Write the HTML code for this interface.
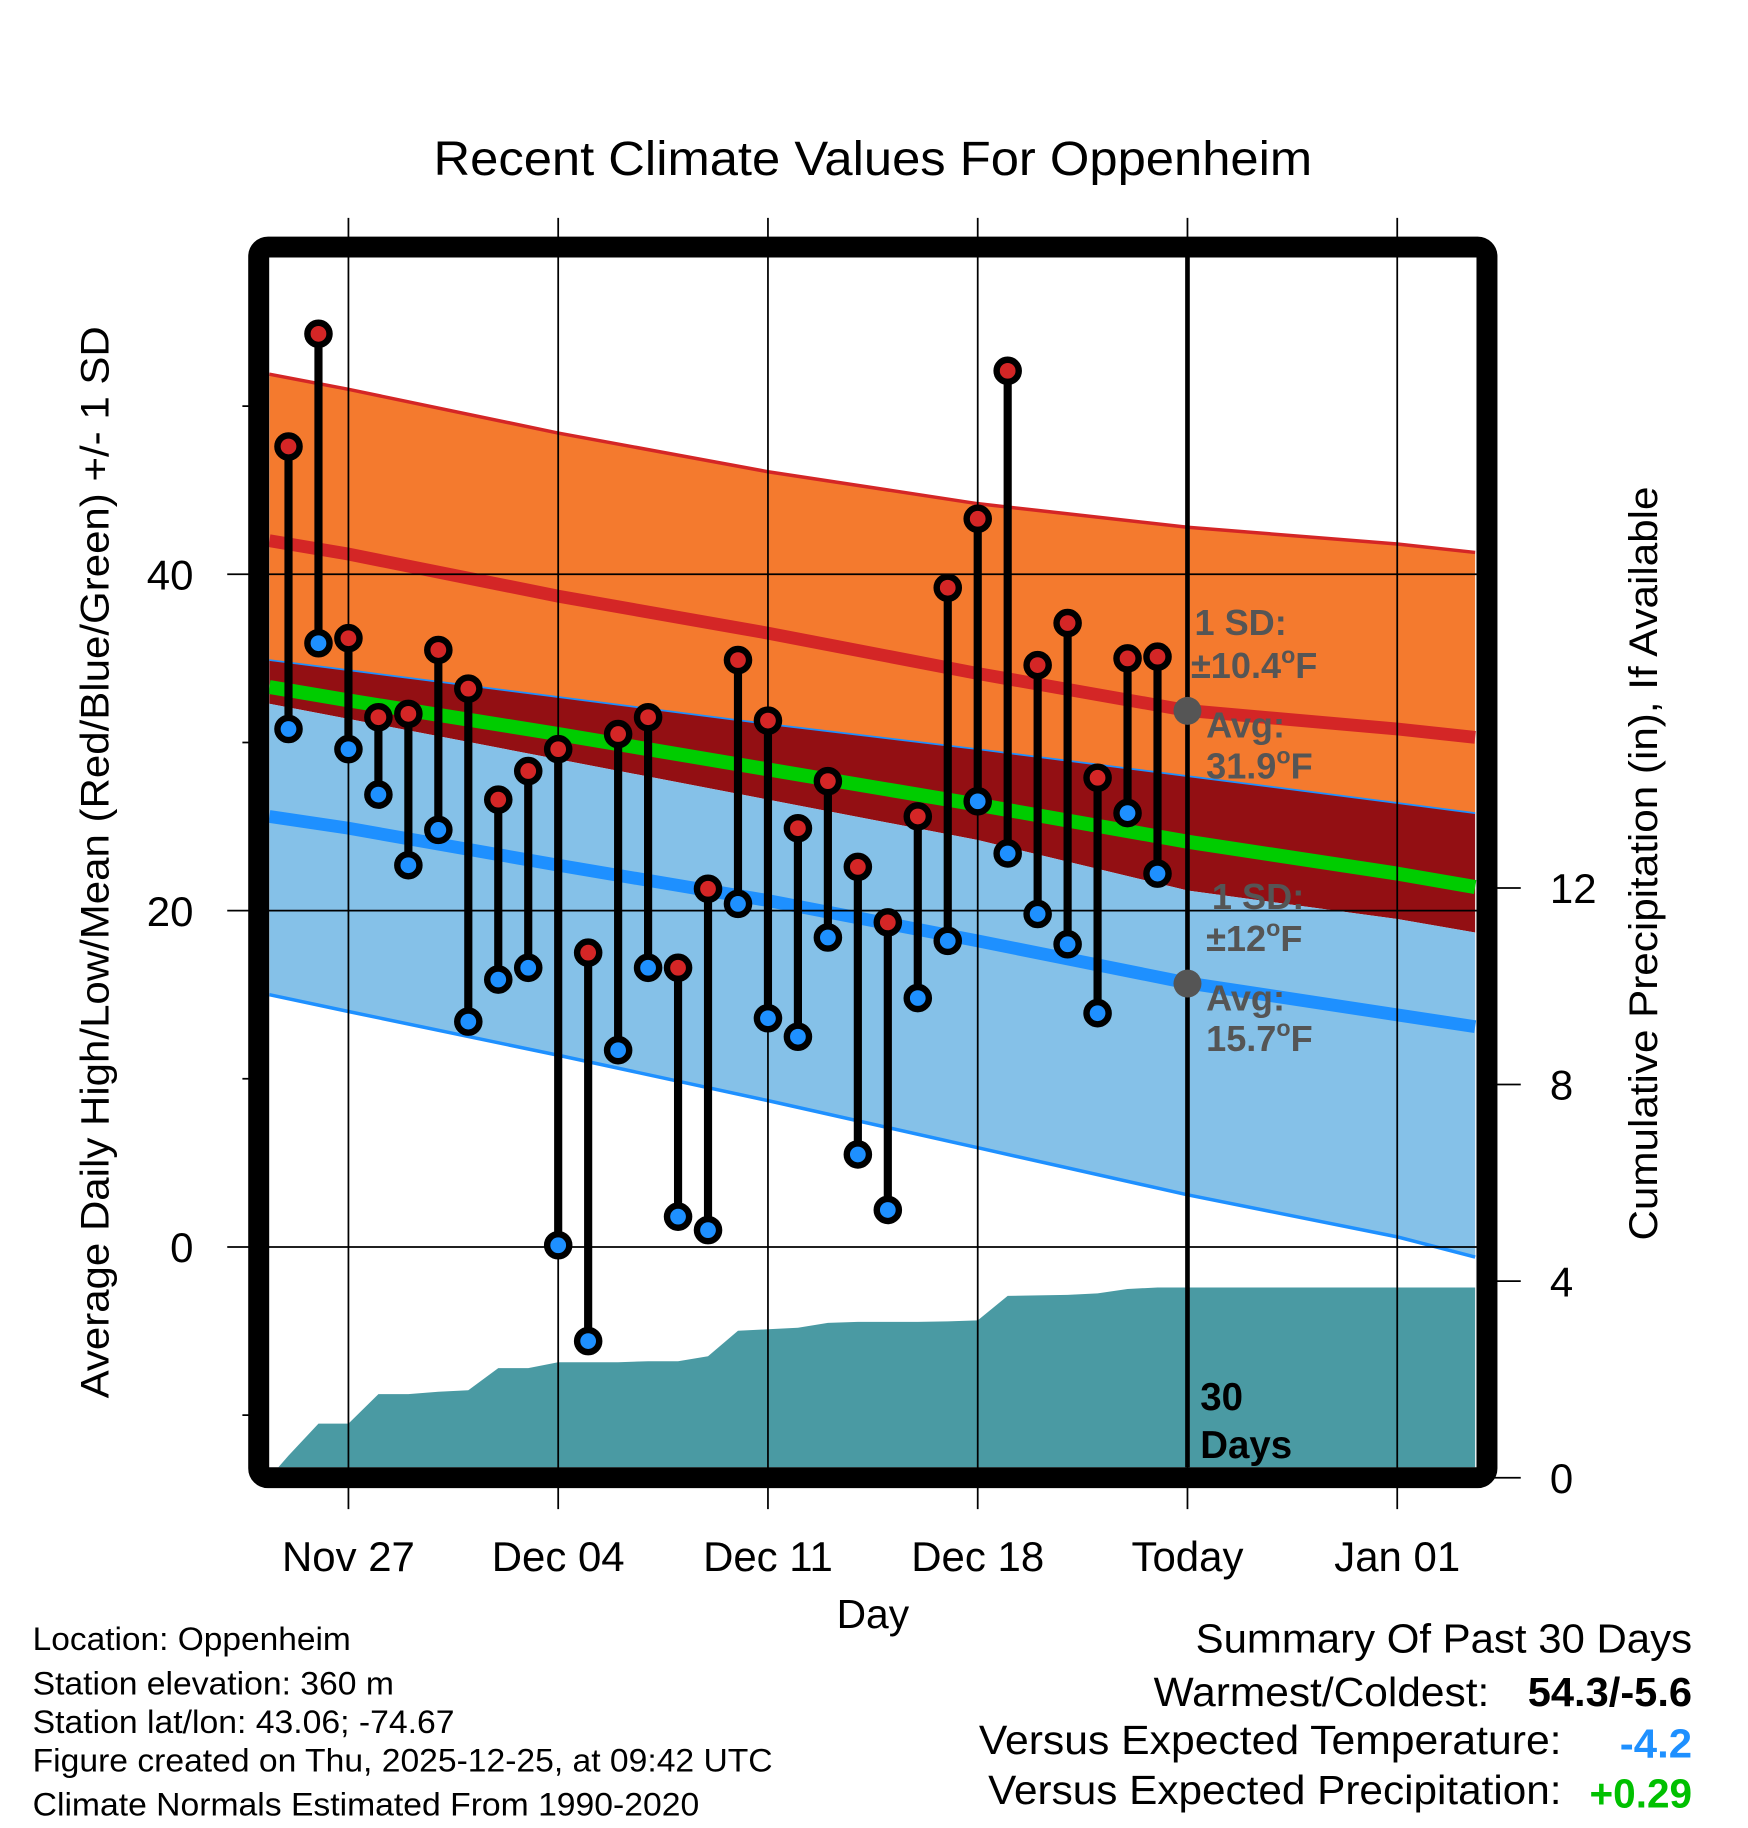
<!DOCTYPE html>
<html><head><meta charset="utf-8"><style>
html,body{margin:0;padding:0;background:#fff}
svg{display:block}
text{font-family:"Liberation Sans",sans-serif}
</style></head><body>
<svg id="c" width="1748" height="1828" viewBox="0 0 1500 1568.6" preserveAspectRatio="none" xmlns="http://www.w3.org/2000/svg">
<defs><clipPath id="clip"><rect x="231" y="221" width="1036" height="1038"/></clipPath></defs>
<text x="372" y="150" font-size="41" textLength="754" lengthAdjust="spacingAndGlyphs">Recent Climate Values For Oppenheim</text>
<g id="fills" clip-path="url(#clip)"></g>
<g id="grid"></g>
<g id="marks" clip-path="url(#clip)"></g>
<rect x="222" y="212" width="1054" height="1056" rx="8" fill="none" stroke="#000" stroke-width="18"/>
<line x1="1019" y1="221" x2="1019" y2="1259" stroke="#000" stroke-width="4"/>
<g id="labels"></g>
<g font-weight="bold" fill="#555" font-size="31">
<text x="1025" y="545">1 SD:</text>
<text x="1022" y="582">±10.4<tspan font-size="20" dy="-13">o</tspan><tspan dy="13">F</tspan></text>
<circle cx="1019" cy="610" r="12" fill="#555"/>
<text x="1035" y="633">Avg:</text>
<text x="1035" y="668">31.9<tspan font-size="20" dy="-13">o</tspan><tspan dy="13">F</tspan></text>
<text x="1040" y="780">1 SD:</text>
<text x="1035" y="816">±12<tspan font-size="20" dy="-13">o</tspan><tspan dy="13">F</tspan></text>
<circle cx="1019" cy="844" r="12" fill="#555"/>
<text x="1035" y="867">Avg:</text>
<text x="1035" y="902">15.7<tspan font-size="20" dy="-13">o</tspan><tspan dy="13">F</tspan></text>
</g>
<g font-weight="bold" font-size="33" fill="#000">
<text x="1030" y="1210">30</text><text x="1030" y="1251">Days</text>
</g>
<text transform="translate(93,740) rotate(-90)" font-size="34" text-anchor="middle" textLength="920" lengthAdjust="spacingAndGlyphs">Average Daily High/Low/Mean (Red/Blue/Green) +/- 1 SD</text>
<text transform="translate(1422,741) rotate(-90)" font-size="34" text-anchor="middle" textLength="647" lengthAdjust="spacingAndGlyphs">Cumulative Precipitation (in), If Available</text>
<text x="749" y="1397" font-size="35" text-anchor="middle">Day</text>
<g font-size="28">
<text x="28" y="1416" textLength="273" lengthAdjust="spacingAndGlyphs">Location: Oppenheim</text>
<text x="28" y="1454" textLength="310" lengthAdjust="spacingAndGlyphs">Station elevation: 360 m</text>
<text x="28" y="1487" textLength="362" lengthAdjust="spacingAndGlyphs">Station lat/lon: 43.06; -74.67</text>
<text x="28" y="1520" textLength="635" lengthAdjust="spacingAndGlyphs">Figure created on Thu, 2025-12-25, at 09:42 UTC</text>
<text x="28" y="1558" textLength="572" lengthAdjust="spacingAndGlyphs">Climate Normals Estimated From 1990-2020</text>
</g>
<g font-size="35">
<text x="1026" y="1418" textLength="426" lengthAdjust="spacingAndGlyphs">Summary Of Past 30 Days</text>
<text x="990" y="1464" textLength="288" lengthAdjust="spacingAndGlyphs">Warmest/Coldest:</text>
<text x="1311" y="1464" font-weight="bold" textLength="141" lengthAdjust="spacingAndGlyphs">54.3/-5.6</text>
<text x="840" y="1505" textLength="500" lengthAdjust="spacingAndGlyphs">Versus Expected Temperature:</text>
<text x="1390" y="1508" font-weight="bold" fill="#1e90ff" textLength="62" lengthAdjust="spacingAndGlyphs">-4.2</text>
<text x="848" y="1548" textLength="492" lengthAdjust="spacingAndGlyphs">Versus Expected Precipitation:</text>
<text x="1364" y="1551" font-weight="bold" fill="#00c000" textLength="88" lengthAdjust="spacingAndGlyphs">+0.29</text>
</g>
</svg>
<script>
const normDays=[-2.64,0,7,14,21,28,35,37.6];
const highUpper=[51.9,51.0,48.4,46.1,44.2,42.8,41.8,41.3];
const highMean=[42.0,41.2,38.7,36.5,34.1,31.9,30.8,30.3];
const highLower=[34.9,34.3,32.7,31.1,29.6,28.0,26.4,25.8];
const avgMean=[33.3,32.5,30.5,28.4,26.3,24.1,22.2,21.4];
const lowUpper=[32.3,31.4,29.0,26.6,24.2,21.2,19.5,18.7];
const lowMean=[25.6,24.9,22.7,20.6,18.2,15.7,13.8,13.1];
const lowLower=[15.0,14.0,11.4,8.7,5.9,3.1,0.6,-0.6];
const obsDays=[-2,-1,0,1,2,3,4,5,6,7,8,9,10,11,12,13,14,15,16,17,18,19,20,21,22,23,24,25,26,27];
const highs=[47.6,54.3,36.2,31.5,31.7,35.5,33.2,26.6,28.3,29.6,17.5,30.5,31.5,16.6,21.3,34.9,31.3,24.9,27.7,22.6,19.3,25.6,39.2,43.3,52.1,34.6,37.1,27.9,35.0,35.1];
const lows=[30.8,35.9,29.6,26.9,22.7,24.8,13.4,15.9,16.6,0.1,-5.6,11.7,16.6,1.8,1.0,20.4,13.6,12.5,18.4,5.5,2.2,14.8,18.2,26.5,23.4,19.8,18.0,13.9,25.8,22.2];
const precip=[0.45,1.1,1.1,1.7,1.7,1.75,1.78,2.23,2.23,2.35,2.35,2.35,2.37,2.37,2.47,2.99,3.02,3.05,3.15,3.17,3.17,3.17,3.18,3.2,3.7,3.71,3.72,3.75,3.84,3.87];
const xTickDays=[0,7,14,21,28,35];
const xTickLabels=['Nov 27','Dec 04','Dec 11','Dec 18','Today','Jan 01'];
const yTicks=[0,20,40];
const yMinor=[-10,10,30,50];
const pTicks=[0,4,8,12];
const NS='http://www.w3.org/2000/svg';
const X=d=>299+d*(180/7);
const Y=v=>1070-v*14.43;
const P=v=>1268-v*42.17;
function mk(tag,attrs,parent){const e=document.createElementNS(NS,tag);for(const k in attrs)e.setAttribute(k,attrs[k]);parent.appendChild(e);return e;}
const fills=document.getElementById('fills'),grid=document.getElementById('grid'),marks=document.getElementById('marks'),labels=document.getElementById('labels');
function pts(arr){return normDays.map((d,i)=>X(d)+','+Y(arr[i]));}
function band(top,bot,color,name){const p=pts(top).concat(pts(bot).reverse());const e=mk('polygon',{points:p.join(' '),fill:color},fills);

}
function line(arr,color,w,name){const e=mk('polyline',{points:pts(arr).join(' '),fill:'none',stroke:color,'stroke-width':w},fills);

}
band(highUpper,highLower,'#f47a2e','high-sd-band');
band(highLower,lowUpper,'#930f13','overlap-band');
band(lowUpper,lowLower,'#85c1e8','low-sd-band');
line(highUpper,'#d42626',3,'high-upper-line');
line(highMean,'#d42626',11,'high-mean-line');
line(highLower,'#1e90ff',1.5,'high-lower-line');
line(avgMean,'#00cc00',12,'mean-line');
line(lowMean,'#1e90ff',11,'low-mean-line');
line(lowLower,'#1e90ff',3,'low-lower-line');
let pp=[X(-2.64)+','+P(0)];
obsDays.forEach((d,i)=>pp.push(X(d)+','+P(precip[i])));
pp.push(X(37.6)+','+P(precip[precip.length-1]));pp.push(X(37.6)+','+P(0));
const pa=mk('polygon',{points:pp.join(' '),fill:'#4a9aa3'},fills);


xTickDays.forEach((d,i)=>{
 const l=mk('line',{x1:X(d),x2:X(d),y1:187,y2:1295,stroke:'#000','stroke-width':1.5},grid);
 
 
 const t=mk('text',{x:X(d),y:1348,'font-size':36,'text-anchor':'middle'},labels);t.textContent=xTickLabels[i];
 
 
});
yTicks.forEach(v=>{
 const l=mk('line',{x1:195,x2:1276,y1:Y(v),y2:Y(v),stroke:'#000','stroke-width':1.5},grid);
 
 
 const t=mk('text',{x:166,y:Y(v)+13,'font-size':36,'text-anchor':'end'},labels);t.textContent=v;
 
 
});
yMinor.forEach(v=>{const l=mk('line',{x1:208,x2:222,y1:Y(v),y2:Y(v),stroke:'#000','stroke-width':1.5},grid);
 
 });
pTicks.forEach(v=>{
 const l=mk('line',{x1:1276,x2:1305,y1:P(v),y2:P(v),stroke:'#000','stroke-width':1.5},grid);
 
 
 const t=mk('text',{x:1330,y:P(v)+13,'font-size':36},labels);t.textContent=v;
 
 
});
obsDays.forEach((d,i)=>{
 const x=X(d);
 const s=mk('line',{x1:x,x2:x,y1:Y(highs[i]),y2:Y(lows[i]),stroke:'#000','stroke-width':7},marks);
 
 
});
obsDays.forEach((d,i)=>{
 const x=X(d);
 const h=mk('circle',{cx:x,cy:Y(highs[i]),r:9.5,fill:'#d42626',stroke:'#000','stroke-width':5.5},marks);
 
 
 const lo=mk('circle',{cx:x,cy:Y(lows[i]),r:9.5,fill:'#1e90ff',stroke:'#000','stroke-width':5.5},marks);
 
 
});
</script>
</body></html>
